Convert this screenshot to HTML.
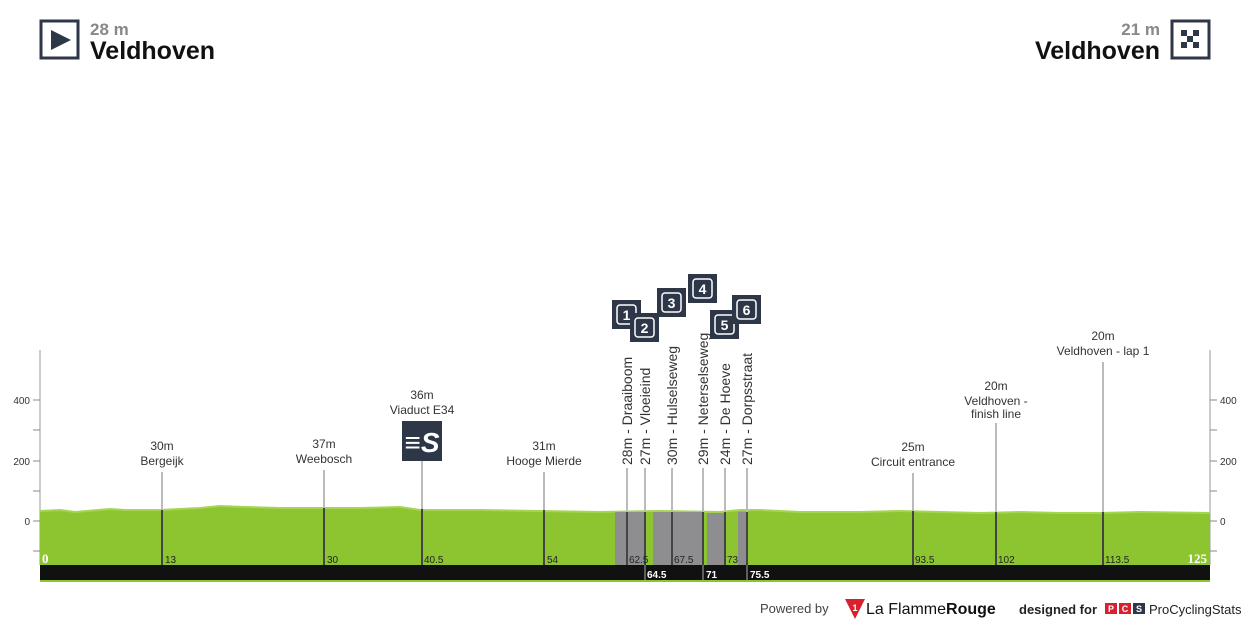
<!DOCTYPE html>
<html><head><meta charset="utf-8"><style>
body{margin:0;background:#fff;width:1250px;height:625px;overflow:hidden;font-family:"Liberation Sans",sans-serif}
svg{display:block}
</style></head><body>
<svg width="1250" height="625" viewBox="0 0 1250 625" font-family="Liberation Sans, sans-serif">
<rect x="41" y="21" width="37" height="37" fill="#fff" stroke="#2d3747" stroke-width="3"/>
<polygon points="51,30 51,50 71,40" fill="#2d3747"/>
<text x="90" y="35" font-size="17" font-weight="bold" fill="#888">28 m</text>
<text x="90" y="59" font-size="25" font-weight="bold" fill="#111">Veldhoven</text>
<text x="1160" y="35" font-size="17" font-weight="bold" fill="#888" text-anchor="end">21 m</text>
<text x="1160" y="59" font-size="25" font-weight="bold" fill="#111" text-anchor="end">Veldhoven</text>
<rect x="1172" y="21" width="37" height="37" fill="#fff" stroke="#2d3747" stroke-width="3"/>
<g fill="#2d3747">
<rect x="1181" y="30" width="6" height="6"/><rect x="1193" y="30" width="6" height="6"/>
<rect x="1187" y="36" width="6" height="6"/>
<rect x="1181" y="42" width="6" height="6"/><rect x="1193" y="42" width="6" height="6"/>
</g>
<g stroke="#ccc" stroke-width="2"><line x1="40" y1="350" x2="40" y2="565"/><line x1="1210" y1="350" x2="1210" y2="565"/></g>
<g stroke="#888" stroke-width="1">
<line x1="33" y1="400" x2="40" y2="400"/><line x1="33" y1="430" x2="40" y2="430"/><line x1="33" y1="461" x2="40" y2="461"/><line x1="33" y1="491" x2="40" y2="491"/><line x1="33" y1="521" x2="40" y2="521"/><line x1="33" y1="551" x2="40" y2="551"/>
<line x1="1210" y1="400" x2="1217" y2="400"/><line x1="1210" y1="430" x2="1217" y2="430"/><line x1="1210" y1="461" x2="1217" y2="461"/><line x1="1210" y1="491" x2="1217" y2="491"/><line x1="1210" y1="521" x2="1217" y2="521"/><line x1="1210" y1="551" x2="1217" y2="551"/>
</g>
<g font-size="10" fill="#333">
<text x="30" y="404" text-anchor="end">400</text><text x="30" y="465" text-anchor="end">200</text><text x="30" y="525" text-anchor="end">0</text>
<text x="1220" y="404">400</text><text x="1220" y="465">200</text><text x="1220" y="525">0</text>
</g>
<path d="M40,511 L60,510 L75,512 L110,509 L125,510 L160,510 L200,508 L220,506 L245,507 L280,508 L320,508 L360,508 L400,507 L420,510 L480,510 L540,511 L600,512 L660,511 L720,512 L740,510 L760,510 L800,512 L860,512 L900,511 L940,512 L980,513 L1020,512 L1060,513 L1100,513 L1140,512 L1210,513 L1210,566 L40,566 Z" fill="#8dc530"/>
<path d="M40,511 L60,510 L75,512 L110,509 L125,510 L160,510 L200,508 L220,506 L245,507 L280,508 L320,508 L360,508 L400,507 L420,510 L480,510 L540,511 L600,512 L660,511 L720,512 L740,510 L760,510 L800,512 L860,512 L900,511 L940,512 L980,513 L1020,512 L1060,513 L1100,513 L1140,512 L1210,513" fill="none" stroke="#a6d454" stroke-width="2"/>
<g fill="#8e8e90">
<rect x="615" y="512" width="30" height="53"/><rect x="653" y="512" width="49" height="53"/><rect x="707" y="513" width="18" height="52"/><rect x="738" y="512" width="9" height="53"/>
</g>
<rect x="40" y="565" width="1170" height="15" fill="#111"/>
<line x1="40" y1="581" x2="1210" y2="581" stroke="#8dc530" stroke-width="2"/>
<g stroke="#aaa" stroke-width="1"><line x1="645" y1="565" x2="645" y2="580"/><line x1="703" y1="565" x2="703" y2="580"/><line x1="747" y1="565" x2="747" y2="580"/></g>
<g font-size="10" font-weight="bold" fill="#fff"><text x="647" y="578">64.5</text><text x="706" y="578">71</text><text x="750" y="578">75.5</text></g>
<g stroke="#bbb" stroke-width="2">
<line x1="162" y1="472" x2="162" y2="510"/><line x1="324" y1="470" x2="324" y2="508"/><line x1="422" y1="460" x2="422" y2="509"/><line x1="544" y1="472" x2="544" y2="510"/>
<line x1="627" y1="468" x2="627" y2="512"/><line x1="645" y1="468" x2="645" y2="512"/><line x1="672" y1="468" x2="672" y2="512"/><line x1="703" y1="468" x2="703" y2="512"/><line x1="725" y1="468" x2="725" y2="512"/><line x1="747" y1="468" x2="747" y2="512"/>
<line x1="913" y1="473" x2="913" y2="511"/><line x1="996" y1="423" x2="996" y2="512"/><line x1="1103" y1="362" x2="1103" y2="512"/>
</g>
<g stroke="#444" stroke-width="2">
<line x1="162" y1="510" x2="162" y2="565"/><line x1="324" y1="508" x2="324" y2="565"/><line x1="422" y1="509" x2="422" y2="565"/><line x1="544" y1="510" x2="544" y2="565"/>
<line x1="627" y1="512" x2="627" y2="565"/><line x1="645" y1="512" x2="645" y2="565"/><line x1="672" y1="512" x2="672" y2="565"/><line x1="703" y1="512" x2="703" y2="565"/><line x1="725" y1="512" x2="725" y2="565"/><line x1="747" y1="512" x2="747" y2="565"/>
<line x1="913" y1="511" x2="913" y2="565"/><line x1="996" y1="512" x2="996" y2="565"/><line x1="1103" y1="512" x2="1103" y2="565"/>
</g>
<g font-size="10" fill="#222">
<text x="165" y="563">13</text><text x="327" y="563">30</text><text x="424" y="563">40.5</text><text x="547" y="563">54</text><text x="629" y="563">62.5</text><text x="674" y="563">67.5</text><text x="727" y="563">73</text><text x="915" y="563">93.5</text><text x="998" y="563">102</text><text x="1105" y="563">113.5</text>
</g>
<text x="42" y="563" font-size="13" font-weight="bold" fill="#fff" font-family="Liberation Serif, serif">0</text>
<text x="1207" y="563" font-size="13" font-weight="bold" fill="#fff" font-family="Liberation Serif, serif" text-anchor="end">125</text>
<g font-size="12" fill="#333" text-anchor="middle">
<text x="162" y="450">30m</text><text x="162" y="465">Bergeijk</text>
<text x="324" y="448">37m</text><text x="324" y="463">Weebosch</text>
<text x="422" y="399">36m</text><text x="422" y="414">Viaduct E34</text>
<text x="544" y="450">31m</text><text x="544" y="465">Hooge Mierde</text>
<text x="913" y="451">25m</text><text x="913" y="466">Circuit entrance</text>
<text x="996" y="390">20m</text><text x="996" y="405">Veldhoven -</text><text x="996" y="418">finish line</text>
<text x="1103" y="340">20m</text><text x="1103" y="355">Veldhoven - lap 1</text>
</g>
<g font-size="14" fill="#333">
<text transform="translate(632,465) rotate(-90)">28m - Draaiboom</text>
<text transform="translate(650,465) rotate(-90)">27m - Vloeieind</text>
<text transform="translate(677,465) rotate(-90)">30m - Hulselseweg</text>
<text transform="translate(708,465) rotate(-90)">29m - Neterselseweg</text>
<text transform="translate(730,465) rotate(-90)">24m - De Hoeve</text>
<text transform="translate(752,465) rotate(-90)">27m - Dorpsstraat</text>
</g>
<rect x="402" y="421" width="40" height="40" fill="#2d3747"/>
<text x="422" y="452" font-size="28" font-weight="bold" fill="#fff" text-anchor="middle" font-style="italic">≡S</text>
<g font-size="14" font-weight="bold" fill="#fff" text-anchor="middle">
<rect x="612" y="300" width="29" height="29" fill="#2d3747"/><rect x="617" y="305" width="19" height="19" rx="3" fill="none" stroke="#fff" stroke-width="1.5"/><text x="626.5" y="320">1</text>
<rect x="630" y="313" width="29" height="29" fill="#2d3747"/><rect x="635" y="318" width="19" height="19" rx="3" fill="none" stroke="#fff" stroke-width="1.5"/><text x="644.5" y="333">2</text>
<rect x="657" y="288" width="29" height="29" fill="#2d3747"/><rect x="662" y="293" width="19" height="19" rx="3" fill="none" stroke="#fff" stroke-width="1.5"/><text x="671.5" y="308">3</text>
<rect x="688" y="274" width="29" height="29" fill="#2d3747"/><rect x="693" y="279" width="19" height="19" rx="3" fill="none" stroke="#fff" stroke-width="1.5"/><text x="702.5" y="294">4</text>
<rect x="710" y="310" width="29" height="29" fill="#2d3747"/><rect x="715" y="315" width="19" height="19" rx="3" fill="none" stroke="#fff" stroke-width="1.5"/><text x="724.5" y="330">5</text>
<rect x="732" y="295" width="29" height="29" fill="#2d3747"/><rect x="737" y="300" width="19" height="19" rx="3" fill="none" stroke="#fff" stroke-width="1.5"/><text x="746.5" y="315">6</text>
</g>
<text x="760" y="613" font-size="13" fill="#444">Powered by</text>
<polygon points="845,599 865,599 855,619" fill="#d9202e"/>
<text x="855" y="611" font-size="9" font-weight="bold" fill="#fff" text-anchor="middle">1</text>
<text x="866" y="614" font-size="16" fill="#111">La Flamme<tspan font-weight="bold">Rouge</tspan></text>
<text x="1019" y="614" font-size="13" font-weight="bold" fill="#222">designed for</text>
<rect x="1105" y="603" width="12" height="11" fill="#d9202e"/><rect x="1119" y="603" width="12" height="11" fill="#d9202e"/><rect x="1133" y="603" width="12" height="11" fill="#2d3747"/>
<g font-size="9" font-weight="bold" fill="#fff" text-anchor="middle"><text x="1111" y="612">P</text><text x="1125" y="612">C</text><text x="1139" y="612">S</text></g>
<text x="1149" y="614" font-size="13" fill="#222">ProCyclingStats</text>
</svg>
</body></html>
